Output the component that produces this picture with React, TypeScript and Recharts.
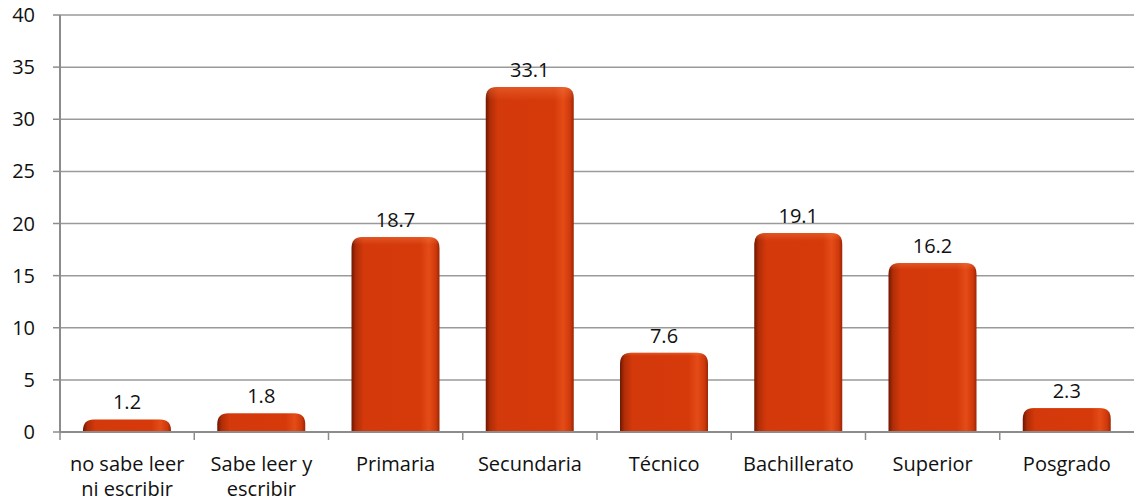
import { BarChart, Bar, XAxis, YAxis, CartesianGrid, LabelList } from 'recharts'

const categories = [
  'no sabe leer\nni escribir',
  'Sabe leer y\nescribir',
  'Primaria',
  'Secundaria',
  'Técnico',
  'Bachillerato',
  'Superior',
  'Posgrado',
]
const values = [1.2, 1.8, 18.7, 33.1, 7.6, 19.1, 16.2, 2.3]
const yTicks = [0, 5, 10, 15, 20, 25, 30, 35, 40]

const data = categories.map((name, i) => ({ name, value: values[i] }))

const W = 1134
const H = 501
const LEFT = 60
const PLOT_W = W - LEFT
const HALF_BAND = PLOT_W / categories.length / 2
const FONT = '"Open Sans", Lato, sans-serif'
const FS = 20

function CategoryTick({ x, y, payload }: { x?: number; y?: number; payload?: { value: string } }) {
  if (x === undefined || y === undefined || !payload) return null
  const lines = String(payload.value).split('\n')
  return (
    <g>
      <line x1={x - HALF_BAND} x2={x - HALF_BAND} y1={y - 8} y2={y} stroke="#8c8c8c" strokeWidth={1.5} />
      <text x={x} y={y + 31} textAnchor="middle" fill="#111" fontSize={FS} fontFamily={FONT}>
        {lines.map((l, i) => (
          <tspan key={i} x={x} dy={i === 0 ? 0 : 25}>
            {l}
          </tspan>
        ))}
      </text>
    </g>
  )
}

function BarShape(props: { x?: number; y?: number; width?: number; height?: number }) {
  const { x = 0, y = 0, width = 0, height = 0 } = props
  const r = Math.min(11, height, width / 2)
  const path = `M${x},${y + height} L${x},${y + r} Q${x},${y} ${x + r},${y} L${x + width - r},${y} Q${x + width},${y} ${x + width},${y + r} L${x + width},${y + height} Z`
  return (
    <g>
      <path d={path} fill="url(#barGrad)" />
      <path d={path} fill="url(#barTop)" />
    </g>
  )
}

export default function App() {
  return (
    <div style={{ position: 'absolute', left: 0, top: 0, width: W, height: H, background: '#fff' }}>
      <BarChart
        width={W}
        height={H}
        data={data}
        margin={{ top: 15, right: 0, left: 0, bottom: 0 }}
        barCategoryGap={23}
      >
        <defs>
          <linearGradient id="barGrad" x1="0" y1="0" x2="1" y2="0">
            <stop offset="0%" stopColor="#6e1702" />
            <stop offset="5%" stopColor="#b02d07" />
            <stop offset="14%" stopColor="#d4390b" />
            <stop offset="78%" stopColor="#d63a0b" />
            <stop offset="88%" stopColor="#e44c17" />
            <stop offset="96%" stopColor="#cf380b" />
            <stop offset="100%" stopColor="#9a2605" />
          </linearGradient>
          <linearGradient id="barTop" x1="0" y1="0" x2="0" y2="1">
            <stop offset="0%" stopColor="#ff8a50" stopOpacity={0.35} />
            <stop offset="4%" stopColor="#ff8a50" stopOpacity={0} />
            <stop offset="100%" stopColor="#ff8a50" stopOpacity={0} />
          </linearGradient>
        </defs>
        <CartesianGrid vertical={false} stroke="#9a9a9a" strokeWidth={1.5} />
        <XAxis
          dataKey="name"
          interval={0}
          height={69}
          axisLine={{ stroke: '#8c8c8c', strokeWidth: 2 }}
          tickLine={false}
          tick={<CategoryTick />}
        />
        <YAxis
          width={LEFT}
          domain={[0, 40]}
          ticks={yTicks}
          interval={0}
          axisLine={{ stroke: '#8c8c8c', strokeWidth: 2 }}
          tickLine={{ stroke: '#8c8c8c', strokeWidth: 1.5 }}
          tickSize={7}
          tickMargin={18}
          tick={{ fill: '#111', fontSize: FS, fontFamily: FONT }}
        />
        <Bar dataKey="value" shape={<BarShape />} isAnimationActive={false}>
          <LabelList
            dataKey="value"
            position="top"
            offset={10}
            fill="#111"
            fontSize={FS}
            fontFamily={FONT}
          />
        </Bar>
      </BarChart>
    </div>
  )
}
